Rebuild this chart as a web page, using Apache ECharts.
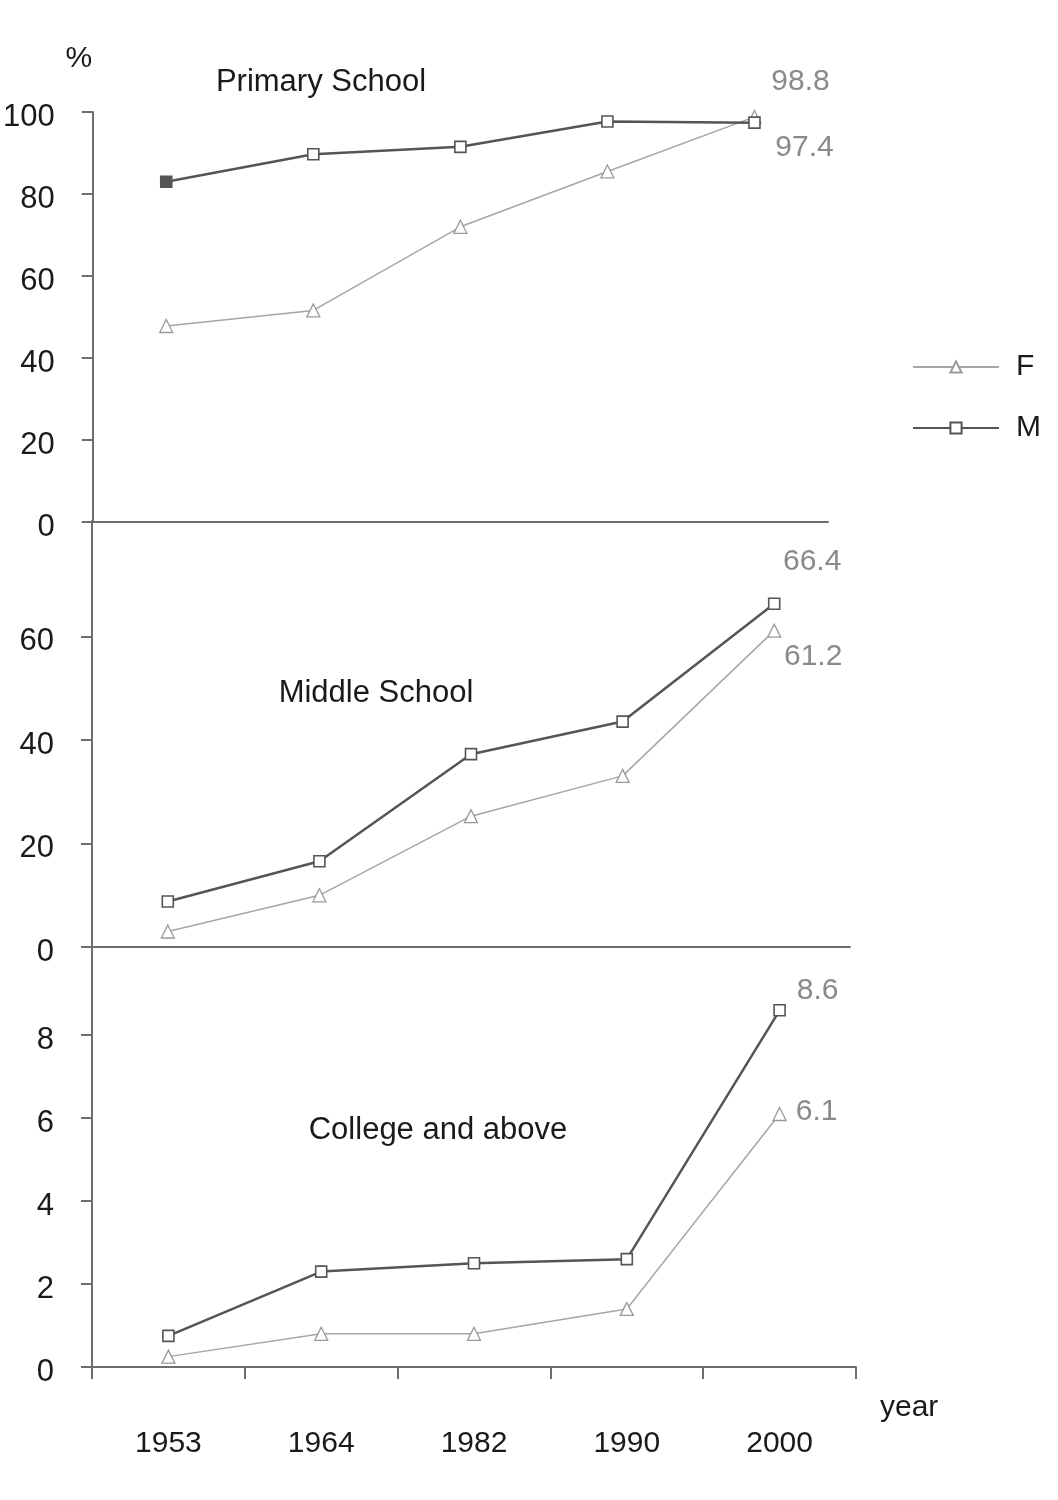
<!DOCTYPE html>
<html>
<head>
<meta charset="utf-8">
<script src="https://cdn.jsdelivr.net/npm/echarts@6/dist/echarts.min.js"></script>
<style>
html,body{margin:0;padding:0;background:#fff;}
#chart{width:1058px;height:1500px;}
</style>
</head>
<body>
<div id="chart"></div>
<script>
// ---- data ----
const years = ['1953', '1964', '1982', '1990', '2000'];
const primaryF = [47.8, 51.6, 72.0, 85.5, 98.8];
const primaryM = [83.0, 89.7, 91.5, 97.7, 97.4];
const middleF = [3.0, 10.0, 25.3, 33.1, 61.2];
const middleM = [8.8, 16.6, 37.3, 43.6, 66.4];
const collegeF = [0.25, 0.8, 0.8, 1.4, 6.1];
const collegeM = [0.75, 2.3, 2.5, 2.6, 8.6];
const panelTitles = ['Primary School', 'Middle School', 'College and above'];
const primaryTicks = [0, 20, 40, 60, 80, 100];
const middleTicks = [0, 20, 40, 60];
const collegeTicks = [0, 2, 4, 6, 8];

// ---- styles ----
const FONT = '"Liberation Sans", Arial, sans-serif';
const AXIS = '#6e6e6e';
const TXT = '#1a1a1a';
const M_COLOR = '#555555';
const F_COLOR = '#a6a6a6';
const LBL = '#8a8a8a';

function withEndLabel(arr, offset) {
  return arr.map((v, i) => i === arr.length - 1
    ? { value: v, label: { show: true, position: 'inside', offset: offset, formatter: String(v),
        color: LBL, fontSize: 30, fontFamily: FONT } }
    : v);
}

function mSeries(arr, gi, offset, firstFilled) {
  const data = withEndLabel(arr, offset);
  if (firstFilled) data[0] = { value: arr[0], itemStyle: { color: M_COLOR } };
  return {
    name: 'M', type: 'line', xAxisIndex: gi, yAxisIndex: gi, data: data,
    symbol: 'rect', symbolSize: 11,
    lineStyle: { color: M_COLOR, width: 2.5 },
    itemStyle: { color: '#fff', borderColor: M_COLOR, borderWidth: 1.6 },
    z: 3
  };
}
function fSeries(arr, gi, offset) {
  return {
    name: 'F', type: 'line', xAxisIndex: gi, yAxisIndex: gi, data: withEndLabel(arr, offset),
    symbol: 'triangle', symbolSize: 13,
    lineStyle: { color: F_COLOR, width: 1.5 },
    itemStyle: { color: '#fff', borderColor: '#999', borderWidth: 1.3 },
    z: 2
  };
}

function xAx(gi, showLabels) {
  return {
    type: 'category', gridIndex: gi, data: years, boundaryGap: true,
    axisLine: { show: true, lineStyle: { color: AXIS, width: 2 } },
    axisTick: { show: showLabels, length: 12, inside: false, lineStyle: { color: AXIS, width: 2 } },
    axisLabel: { show: showLabels, margin: 62, fontSize: 30, color: TXT, fontFamily: FONT },
    splitLine: { show: false },
    name: showLabels ? 'year' : '',
    nameLocation: 'end', nameGap: 24,
    nameTextStyle: { fontSize: 30, color: TXT, fontFamily: FONT, verticalAlign: 'top', lineHeight: 82 }
  };
}
function yAx(gi, max, ticks, name) {
  return {
    type: 'value', gridIndex: gi, min: 0, max: max,
    axisLine: { show: true, lineStyle: { color: AXIS, width: 2 } },
    axisTick: { show: true, length: 11, customValues: ticks, lineStyle: { color: AXIS, width: 2 } },
    axisLabel: { customValues: ticks, margin: 38, fontSize: 31, color: TXT, fontFamily: FONT,
      verticalAlign: 'top', lineHeight: 10 },
    splitLine: { show: false },
    name: name || '', nameLocation: 'end', nameGap: 38,
    nameTextStyle: { fontSize: 30, color: TXT, fontFamily: FONT, align: 'center', padding: [0, 28, 0, 0] }
  };
}

const option = {
  animation: false,
  backgroundColor: '#fff',
  textStyle: { fontFamily: FONT },
  grid: [
    { left: 92, top: 112, width: 736, height: 410 },
    { left: 92, top: 521, width: 758, height: 426 },
    { left: 92, top: 946, width: 764, height: 421 }
  ],
  xAxis: [xAx(0, false), xAx(1, false), xAx(2, true)],
  yAxis: [
    yAx(0, 100, primaryTicks, '%'),
    yAx(1, 82.4, middleTicks),
    yAx(2, 10.15, collegeTicks)
  ],
  legend: {
    orient: 'vertical', left: 907, top: 347,
    itemWidth: 86, itemHeight: 14, itemGap: 31,
    data: ['F', 'M'],
    textStyle: { fontSize: 30, color: TXT, fontFamily: FONT, padding: [0, 0, 0, 12] }
  },
  graphic: [
    { type: 'text', x: 321, y: 82, style: { text: panelTitles[0], font: '31px ' + FONT, fill: TXT, textAlign: 'center', textVerticalAlign: 'middle' } },
    { type: 'text', x: 376, y: 693, style: { text: panelTitles[1], font: '31px ' + FONT, fill: TXT, textAlign: 'center', textVerticalAlign: 'middle' } },
    { type: 'text', x: 438, y: 1130, style: { text: panelTitles[2], font: '31px ' + FONT, fill: TXT, textAlign: 'center', textVerticalAlign: 'middle' } }
  ],
  series: [
    fSeries(primaryF, 0, [46, -35]),
    mSeries(primaryM, 0, [50, 25], true),
    fSeries(middleF, 1, [39, 26]),
    mSeries(middleM, 1, [38, -42], false),
    fSeries(collegeF, 2, [37, -2]),
    mSeries(collegeM, 2, [38, -20], false)
  ]
};

const chart = echarts.init(document.getElementById('chart'), null, { renderer: 'canvas' });
chart.setOption(option);
</script>
</body>
</html>
